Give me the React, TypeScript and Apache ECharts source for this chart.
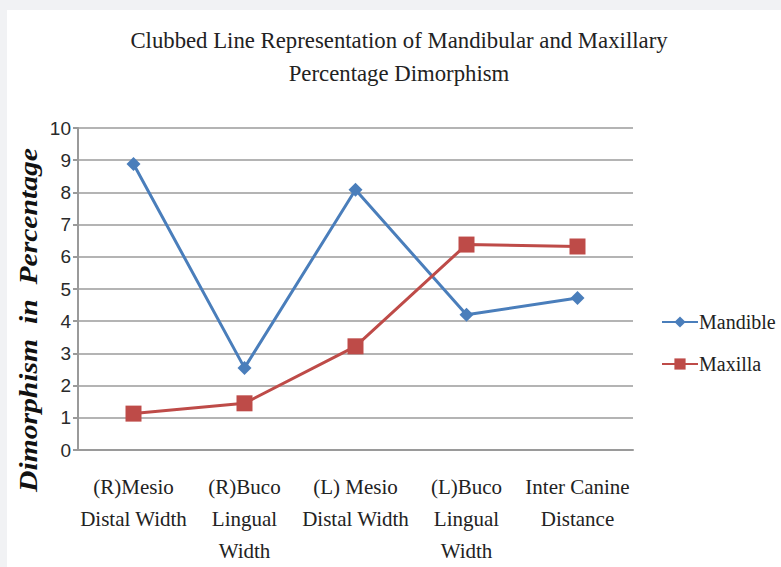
import React, { useEffect, useRef } from "react";
import * as echarts from "echarts";

const categories = [
  "(R)Mesio\nDistal Width",
  "(R)Buco\nLingual\nWidth",
  "(L) Mesio\nDistal Width",
  "(L)Buco\nLingual\nWidth",
  "Inter Canine\nDistance",
];
const mandible = [8.88, 2.55, 8.08, 4.2, 4.72];
const maxilla = [1.13, 1.45, 3.22, 6.38, 6.32];
const titleLines = [
  "Clubbed Line Representation of Mandibular and Maxillary",
  "Percentage Dimorphism",
];
const yTitle = "Dimorphism  in  Percentage";

const SERIF = "'Liberation Serif', 'Times New Roman', serif";

export default function App() {
  const ref = useRef<HTMLDivElement>(null);
  useEffect(() => {
    const chart = echarts.init(ref.current!, null, { renderer: "svg" });
    chart.setOption({
      animation: false,
      backgroundColor: "#f1f2f4",
      graphic: [
        { type: "rect", z: -10, shape: { x: 7, y: 10, width: 774, height: 557 }, style: { fill: "#ffffff" } },
        { type: "text", x: 399, y: 40, scaleX: 0.99, style: { text: titleLines[0], font: `23px ${SERIF}`, fill: "#222", align: "center", verticalAlign: "middle" } },
        { type: "text", x: 399, y: 73, scaleX: 0.99, style: { text: titleLines[1], font: `23px ${SERIF}`, fill: "#222", align: "center", verticalAlign: "middle" } },
        { type: "text", x: 28, y: 320, rotation: Math.PI / 2, scaleX: 1.14, style: { text: yTitle, font: `italic bold 26px ${SERIF}`, fill: "#111", align: "center", verticalAlign: "middle" } },
      ],
      legend: {
        orient: "vertical",
        left: 656,
        top: 307,
        itemGap: 22,
        itemWidth: 36,
        itemHeight: 14,
        textStyle: { fontFamily: SERIF, fontSize: 20, color: "#222", padding: [0, 0, 0, -4] },
        data: ["Mandible", "Maxilla"],
      },
      grid: { left: 78, right: 148, top: 128, bottom: 117, containLabel: false },
      xAxis: {
        type: "category",
        data: categories,
        boundaryGap: true,
        axisLine: { lineStyle: { color: "#9a9a9a", width: 2 } },
        axisTick: { show: false },
        axisLabel: { fontFamily: SERIF, fontSize: 21, color: "#222", lineHeight: 32, margin: 21, interval: 0 },
      },
      yAxis: {
        type: "value",
        min: 0,
        max: 10,
        interval: 1,
        axisLine: { show: true, lineStyle: { color: "#9a9a9a", width: 2 } },
        axisTick: { show: true, length: 5, lineStyle: { color: "#9a9a9a", width: 2 } },
        splitLine: { lineStyle: { color: "#b4b4b4", width: 2 } },
        axisLabel: { fontFamily: "'Liberation Sans', Arial, sans-serif", fontSize: 19, color: "#2a2a2a", margin: 7 },
      },
      series: [
        {
          name: "Mandible",
          type: "line",
          data: mandible,
          symbol: "diamond",
          symbolSize: 14,
          lineStyle: { color: "#4a7ebb", width: 3 },
          itemStyle: { color: "#4a7ebb" },
        },
        {
          name: "Maxilla",
          type: "line",
          data: maxilla,
          symbol: "rect",
          symbolSize: 16,
          lineStyle: { color: "#be4b48", width: 3 },
          itemStyle: { color: "#be4b48" },
        },
      ],
    });
    return () => chart.dispose();
  }, []);
  return <div ref={ref} style={{ position: "fixed", left: 0, top: 0, width: 781, height: 567 }} />;
}
